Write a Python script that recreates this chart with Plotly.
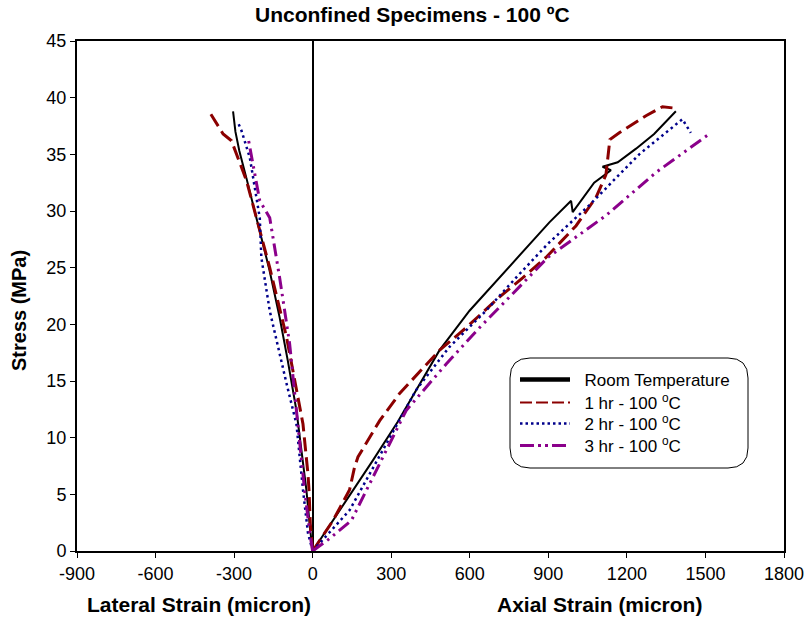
import plotly.graph_objects as go

# ---- data (strain in micron, stress in MPa) ----
rt_lat_strain = [0, -10, -24, -45, -62, -95, -126, -165, -202, -230, -253, -280, -295, -304]
rt_lat_stress = [0, 2.0, 5.4, 9.0, 12.4, 16.8, 20.6, 24.8, 28.3, 30.8, 32.9, 35.3, 37.0, 38.8]
rt_ax_strain = [0, 70, 141, 230, 325, 389, 484, 599, 713, 828, 904, 987, 993, 1075, 1139, 1107, 1165, 1235, 1304, 1387]
rt_ax_stress = [0, 2.4, 4.9, 8.0, 11.4, 13.9, 17.7, 21.2, 24.1, 27.1, 29.0, 30.9, 29.9, 32.5, 33.6, 33.9, 34.3, 35.5, 36.8, 38.8]

h1_lat_strain = [0, -9, -14, -18, -37, -100, -164, -253, -310, -342, -393]
h1_lat_stress = [0, 2.4, 5.4, 6.8, 11.2, 18.9, 25.0, 32.7, 36.2, 36.8, 38.7]
h1_ax_strain = [0, 78, 141, 160, 173, 256, 332, 484, 586, 713, 802, 891, 1006, 1082, 1120, 1126, 1135, 1171, 1273, 1336, 1374]
h1_ax_stress = [0, 2.7, 5.4, 7.4, 8.3, 11.5, 13.9, 17.7, 19.7, 22.4, 24.1, 25.9, 28.7, 31.2, 33.2, 34.7, 36.3, 36.9, 38.4, 39.2, 39.1]

h2_lat_strain = [0, -18, -37, -62, -100, -164, -196, -202, -240, -272, -285]
h2_lat_stress = [0, 1.6, 5.4, 11.2, 14.8, 21.2, 25.9, 29.4, 34.7, 37.1, 37.8]
h2_ax_strain = [0, 52, 141, 268, 395, 522, 662, 776, 898, 1056, 1247, 1412, 1444]
h2_ax_stress = [0, 1.3, 3.6, 8.9, 14.2, 18.0, 21.2, 24.1, 27.1, 30.5, 35.0, 38.1, 36.9]

h3_lat_strain = [0, -11, -31, -62, -88, -126, -164, -202, -234, -247]
h3_lat_stress = [0, 1.6, 5.4, 12.4, 18.3, 24.1, 29.4, 30.9, 34.7, 36.5]
h3_ax_strain = [0, 65, 148, 243, 357, 510, 637, 764, 898, 1120, 1311, 1521]
h3_ax_stress = [0, 1.1, 2.7, 7.1, 12.4, 16.5, 19.7, 22.7, 25.9, 29.6, 33.4, 36.9]

series_names = ["Room Temperature", "1 hr - 100 <sup>o</sup>C", "2 hr - 100 <sup>o</sup>C", "3 hr - 100 <sup>o</sup>C"]
x_ticks = [-900, -600, -300, 0, 300, 600, 900, 1200, 1500, 1800]
y_ticks = [0, 5, 10, 15, 20, 25, 30, 35, 40, 45]

colors = ["black", "#8B0000", "#00008B", "#8B008B"]
dashes = ["solid", "14px,6px", "2.5px,3.5px", "13px,5px,2.5px,5px,2.5px,5px"]
plot_widths = [2, 3, 2.5, 3]
legend_widths = [4.5, 2, 2.5, 3]
legend_dashes = ["solid", "12px,4px", "2.5px,3px", "14px,4px,3px,4px,3px,4px"]

series = [
    (rt_lat_strain, rt_lat_stress, rt_ax_strain, rt_ax_stress),
    (h1_lat_strain, h1_lat_stress, h1_ax_strain, h1_ax_stress),
    (h2_lat_strain, h2_lat_stress, h2_ax_strain, h2_ax_stress),
    (h3_lat_strain, h3_lat_stress, h3_ax_strain, h3_ax_stress),
]

FONT = "Liberation Sans"

# plot area in pixels: x 77..784, y 41..551
def px(x):
    return (x - 77) / 707.0

def py(y):
    return (551 - y) / 510.0

legend_keys = ["legend", "legend2", "legend3", "legend4"]
legend_rows = [380, 403, 424, 446]

fig = go.Figure()
for i, (lx, ly, ax, ay) in enumerate(series):
    fig.add_trace(go.Scatter(
        x=lx + [None] + ax, y=ly + [None] + ay, mode="lines", name=series_names[i],
        line=dict(color=colors[i], width=plot_widths[i], dash=dashes[i]),
        connectgaps=False, showlegend=False, legendgroup=str(i),
    ))
for i in range(len(series)):
    fig.add_trace(go.Scatter(
        x=[None], y=[None], mode="lines", name="&nbsp;&nbsp;" + series_names[i],
        line=dict(color=colors[i], width=legend_widths[i], dash=legend_dashes[i]),
        showlegend=True, legendgroup=str(i), legend=legend_keys[i],
    ))

legend_layouts = {}
for key, row in zip(legend_keys, legend_rows):
    legend_layouts[key] = dict(
        x=px(515), y=py(row), xanchor="left", yanchor="middle",
        bgcolor="rgba(0,0,0,0)", borderwidth=0,
        font=dict(family=FONT, size=17, color="black"),
        itemwidth=50, tracegroupgap=0,
    )

# rounded legend box
x0, x1, y0, y1, r = 510, 748, 358, 468, 20
path = (f"M {px(x0 + r)},{py(y0)} L {px(x1 - r)},{py(y0)} "
        f"Q {px(x1)},{py(y0)} {px(x1)},{py(y0 + r)} L {px(x1)},{py(y1 - r)} "
        f"Q {px(x1)},{py(y1)} {px(x1 - r)},{py(y1)} L {px(x0 + r)},{py(y1)} "
        f"Q {px(x0)},{py(y1)} {px(x0)},{py(y1 - r)} L {px(x0)},{py(y0 + r)} "
        f"Q {px(x0)},{py(y0)} {px(x0 + r)},{py(y0)} Z")

def label(text, x, y, size, angle=0):
    return dict(text=text, x=px(x), y=py(y), xref="paper", yref="paper",
                xanchor="center", yanchor="middle", showarrow=False,
                textangle=angle, font=dict(size=size))

fig.update_layout(
    width=806, height=617,
    margin=dict(l=77, r=22, t=41, b=66, autoexpand=False),
    paper_bgcolor="white", plot_bgcolor="white",
    font=dict(family=FONT, size=17, color="black"),
    showlegend=True,
    shapes=[dict(type="path", path=path, xref="paper", yref="paper",
                 line=dict(color="black", width=1), fillcolor="white", layer="above")],
    xaxis=dict(
        range=[-900, 1800], tickvals=x_ticks, ticktext=[str(v) for v in x_ticks],
        showgrid=False, zeroline=True, zerolinecolor="black", zerolinewidth=2,
        showline=True, linecolor="black", linewidth=2, mirror=True,
        ticks="outside", ticklen=5, tickcolor="black", tickwidth=1,
        tickfont=dict(size=18), automargin=False,
    ),
    yaxis=dict(
        range=[0, 45], tickvals=y_ticks, ticktext=[str(v) for v in y_ticks],
        showgrid=False, zeroline=False,
        showline=True, linecolor="black", linewidth=2, mirror=True,
        ticks="outside", ticklen=5, tickcolor="black", tickwidth=1,
        tickfont=dict(size=18), automargin=False,
    ),
    annotations=[
        label("<b>Unconfined Specimens - 100 ºC</b>", 412, 15, 21),
        label("<b>Stress (MPa)</b>", 19, 311, 20, -90),
        label("<b>Lateral Strain (micron)</b>", 199, 604, 21),
        label("<b>Axial Strain (micron)</b>", 599, 604, 21),
    ],
    **legend_layouts,
)

fig.write_html("out.html", config={"displayModeBar": False},
               post_script="document.body.style.margin='0';document.body.style.overflow='hidden';")
